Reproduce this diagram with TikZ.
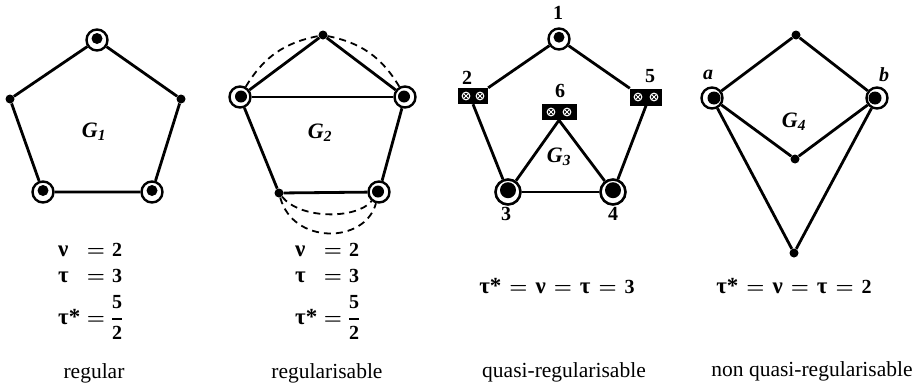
\documentclass[tikz,border=0pt]{standalone}
\usepackage{fontspec}
\setmainfont{Liberation Serif}
\usepackage{amsmath}
\usetikzlibrary{calc}
\newcommand{\beq}{\hspace{0.4em}$=$\hspace{0.4em}}
\newcommand{\gk}[1]{{\fontsize{23}{24}\selectfont #1}}
\tikzset{
  edge/.style={line width=2.8pt},
  dedge/.style={line width=1.8pt, dash pattern=on 7pt off 5pt},
  dotv/.style={circle, fill=black, inner sep=0pt, minimum size=9pt},
  ringv/.style={circle, draw=black, line width=2.4pt, inner sep=0pt, minimum size=21pt},
  bigring/.style={circle, draw=black, line width=2.6pt, inner sep=0pt, minimum size=25pt},
  boxv/.style={rectangle, fill=black, inner sep=0pt},
  vlab/.style={font=\fontsize{20}{22}\selectfont\bfseries, inner sep=0pt},
  glab/.style={font=\fontsize{22}{24}\selectfont\bfseries\itshape, inner sep=0pt},
  eq/.style={font=\fontsize{20}{22}\selectfont\bfseries\boldmath, inner sep=0pt},
  captext/.style={font=\fontsize{21.5}{24}\selectfont, inner sep=0pt, anchor=base},
  glyph/.pic={
    \draw[white, line width=1.1pt] (0,0) circle (3.8pt);
    \draw[white, line width=1pt] (-2.4,-2.4) -- (2.4,2.4) (-2.4,2.4) -- (2.4,-2.4);
  }
}
\begin{document}
\begin{tikzpicture}[x=1pt,y=-1pt]
\useasboundingbox (0,0) rectangle (918,386);

% ---------- G1 ----------
\node[ringv] (a1) at (97,40) {};
\node[dotv] (a2) at (10,99) {};
\node[dotv] (a5) at (181,99) {};
\node[ringv] (a3) at (43,192) {};
\node[ringv] (a4) at (152,192) {};
\fill ($(a1)+(0,-1.5)$) circle (5.5pt);
\fill ($(a3)+(0,-1.5)$) circle (5.5pt);
\fill ($(a4)+(0,-1.5)$) circle (5.5pt);
\draw[edge] (a1) -- (a2) -- (a3) -- (a4) -- (a5) -- (a1);
\node[glab] (g1) at (94,132) {G\textsubscript{1}};

% ---------- G2 ----------
\node[dotv] (b1) at (323,35) {};
\node[ringv] (b2) at (240,97) {};
\node[ringv] (b5) at (405,97) {};
\node[dotv] (b3) at (279,193) {};
\node[ringv] (b4) at (379,192) {};
\fill ($(b2)+(1,-0.5)$) circle (6pt);
\fill ($(b5)+(-1,-0.5)$) circle (6pt);
\fill ($(b4)+(-1,-0.5)$) circle (6pt);
\draw[edge] (b1) -- (b2) -- (b3) -- (b4) -- (b5) -- (b1);
\draw[edge] (b2) -- (b5);
\draw[dedge] (b2) to[bend left=24] (b1);
\draw[dedge] (b1) to[bend left=24] (b5);
\draw[dedge] (b3) .. controls ($(b3)+(22,27)$) and ($(b4)+(-22,27)$) .. (b4);
\draw[dedge] (b3) .. controls ($(b3)+(14,52)$) and ($(b4)+(-14,52)$) .. (b4);
\node[glab] (g2) at (320,133) {G\textsubscript{2}};

% ---------- G3 ----------
\node[ringv] (c1) at (559,39) {};
\fill ($(c1)+(0,-1.8)$) circle (5.5pt);
\node[boxv, minimum width=30pt, minimum height=16pt] (c2) at (473,96) {};
\node[boxv, minimum width=32pt, minimum height=17pt] (c5) at (646,97) {};
\node[boxv, minimum width=35pt, minimum height=16pt] (c6) at (559,112) {};
\node[bigring] (c3) at (508,192) {};
\node[bigring] (c4) at (613,192) {};
\fill ($(c3)+(0,-1.8)$) circle (8pt);
\fill ($(c4)+(0,-1.8)$) circle (8pt);
\pic at ($(c2)+(-7,0)$) {glyph};
\pic at ($(c2)+(7,0)$) {glyph};
\pic at ($(c5)+(-8,0)$) {glyph};
\pic at ($(c5)+(8,0)$) {glyph};
\pic at ($(c6)+(-8,0)$) {glyph};
\pic at ($(c6)+(8,0)$) {glyph};
\draw[edge] (c1) -- (c2.north east);
\draw[edge] (c1) -- (c5.north west);
\draw[edge] (c2.south) -- (c3);
\draw[edge] (c5.south) -- (c4);
\draw[edge] (c3) -- (c4);
\draw[edge] (c6.south) -- (c3);
\draw[edge] (c6.south) -- (c4);
\node[vlab] (l1) at (558,13) {1};
\node[vlab] (l2) at (467,78) {2};
\node[vlab] (l5) at (650,76) {5};
\node[vlab] (l6) at (560,91) {6};
\node[vlab] (l3) at (506,214) {3};
\node[vlab] (l4) at (613,214) {4};
\node[glab] (g3) at (559,157) {G\textsubscript{3}};

% ---------- G4 ----------
\node[dotv] (d1) at (796,35) {};
\node[ringv] (da) at (712,98) {};
\node[ringv] (db) at (877,98) {};
\fill ($(da)+(2,0)$) circle (6.5pt);
\fill ($(db)+(-2,0)$) circle (6.5pt);
\node[dotv] (dm) at (795,159) {};
\node[dotv] (dl) at (794,253) {};
\draw[edge] (da) -- (d1) -- (db);
\draw[edge] (da) -- (dm) -- (db);
\draw[edge] (da) -- (dl) -- (db);
\node[vlab, font=\fontsize{20}{22}\selectfont\bfseries\itshape] (la) at (708,75) {a};
\node[vlab, font=\fontsize{20}{22}\selectfont\bfseries\itshape] (lb) at (884,75) {b};
\node[glab] (g4) at (794,122) {G\textsubscript{4}};

% ---------- equations ----------
\node[eq, anchor=base west] (n1) at (58,256) {\gk{ν}};
\node[eq, anchor=base] (n1e) at (96,256) {$=$};
\node[eq, anchor=base] (n1v) at (117,256) {2};
\node[eq, anchor=base west] (t1) at (58,282) {\gk{τ}};
\node[eq, anchor=base] (t1e) at (96,282) {$=$};
\node[eq, anchor=base] (t1v) at (117,282) {3};
\node[eq, anchor=base west] (s1) at (58,324) {\gk{τ*}};
\node[eq, anchor=base] (s1e) at (96,324) {$=$};
\node[eq, anchor=base] (s1v) at (117,324) {$\genfrac{}{}{1.5pt}{0}{\textbf{5}}{\textbf{2}}$};

\node[eq, anchor=base west] (n2) at (295,256) {\gk{ν}};
\node[eq, anchor=base] (n2e) at (333,256) {$=$};
\node[eq, anchor=base] (n2v) at (354,256) {2};
\node[eq, anchor=base west] (t2) at (295,282) {\gk{τ}};
\node[eq, anchor=base] (t2e) at (333,282) {$=$};
\node[eq, anchor=base] (t2v) at (354,282) {3};
\node[eq, anchor=base west] (s2) at (295,324) {\gk{τ*}};
\node[eq, anchor=base] (s2e) at (333,324) {$=$};
\node[eq, anchor=base] (s2v) at (354,324) {$\genfrac{}{}{1.5pt}{0}{\textbf{5}}{\textbf{2}}$};

\node[eq, anchor=base] (e3) at (557,293) {\gk{τ*}\beq\gk{ν}\beq\gk{τ}\beq 3};
\node[eq, anchor=base] (e4) at (794,293) {\gk{τ*}\beq\gk{ν}\beq\gk{τ}\beq 2};

% ---------- captions ----------
\node[captext] (k1) at (94,378) {regular};
\node[captext] (k2) at (327,378) {regularisable};
\node[captext] (k3) at (564,377) {quasi-regularisable};
\node[captext] (k4) at (812,376) {non quasi-regularisable};
\end{tikzpicture}
\end{document}
